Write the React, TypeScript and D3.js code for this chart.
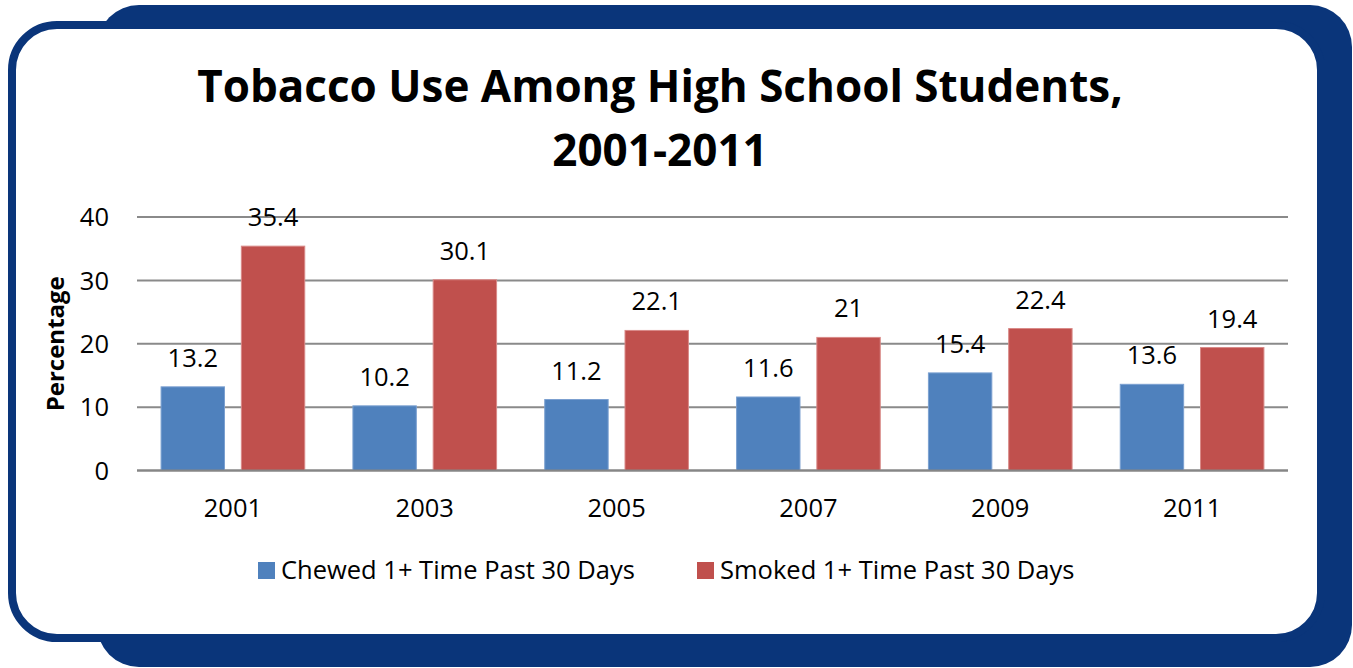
import React from "react";
import * as d3 from "d3";

const years = ["2001", "2003", "2005", "2007", "2009", "2011"];
const chewed = [13.2, 10.2, 11.2, 11.6, 15.4, 13.6];
const smoked = [35.4, 30.1, 22.1, 21, 22.4, 19.4];
const seriesNames = ["Chewed 1+ Time Past 30 Days", "Smoked 1+ Time Past 30 Days"];
const seriesColors = ["#4F81BD", "#C0504D"];
const seriesStroke = ["#7ba0d0", "#d98a88"];
const yTicks = [0, 10, 20, 30, 40];
const titleLines = ["Tobacco Use Among High School Students,", "2001-2011"];
const yAxisTitle = "Percentage";

const W = 1353;
const H = 668;
const FONT = "'Open Sans', 'DejaVu Sans', sans-serif";
const NAVY = "#0A357A";
const NUM_SIZE = 25.5;

export default function App() {
  const x0 = d3.scaleBand<string>().domain(years).range([137, 1288]).paddingInner(0).paddingOuter(0);
  const x1 = d3
    .scaleBand<string>()
    .domain(["0", "1"])
    .range([0, x0.bandwidth()])
    .paddingInner(0.21)
    .paddingOuter(0.3);
  const y = d3.scaleLinear().domain([0, 40]).range([470.5, 217]);
  const data = [chewed, smoked];

  return (
    <svg
      width={W}
      height={H}
      viewBox={`0 0 ${W} ${H}`}
      style={{ position: "absolute", left: 0, top: 0, background: "#fff" }}
    >
      {/* frame */}
      <rect x={97} y={5} width={1255} height={662} rx={42} ry={42} fill={NAVY} />
      <rect x={12} y={25} width={1309} height={613} rx={45} ry={45} fill="#fff" stroke={NAVY} strokeWidth={8} />
      <rect x={1317} y={60} width={10} height={540} fill={NAVY} />

      {/* title */}
      <text x={660} y={102} textAnchor="middle" fontFamily={FONT} fontWeight={700} fontSize={44} fill="#000">
        {titleLines[0]}
      </text>
      <text x={660} y={166} textAnchor="middle" fontFamily={FONT} fontWeight={700} fontSize={44} fill="#000">
        {titleLines[1]}
      </text>

      {/* gridlines */}
      {yTicks.map((t) => (
        <g key={t}>
          <line x1={137} x2={1288} y1={y(t)} y2={y(t)} stroke="#8a8a8a" strokeWidth={2} />
          <text
            x={109}
            y={y(t)}
            dy="0.36em"
            textAnchor="end"
            fontFamily={FONT}
            fontSize={NUM_SIZE}
            fill="#000"
          >
            {t}
          </text>
        </g>
      ))}

      {/* y axis title */}
      <text
        transform={`translate(64, ${y(20)}) rotate(-90)`}
        textAnchor="middle"
        fontFamily={FONT}
        fontWeight={700}
        fontSize={24}
        fill="#000"
      >
        {yAxisTitle}
      </text>

      {/* bars */}
      {years.map((yr, i) => (
        <g key={yr} transform={`translate(${x0(yr)},0)`}>
          {data.map((series, s) => {
            const v = series[i];
            const bx = x1(String(s))!;
            const bw = x1.bandwidth();
            return (
              <g key={s}>
                <rect
                  x={bx}
                  y={y(v)}
                  width={bw}
                  height={y(0) - y(v)}
                  fill={seriesColors[s]}
                  stroke={seriesStroke[s]}
                  strokeWidth={1}
                />
                <text
                  x={bx + bw / 2}
                  y={y(v) - 20}
                  textAnchor="middle"
                  fontFamily={FONT}
                  fontSize={NUM_SIZE}
                  fill="#000"
                >
                  {String(v)}
                </text>
              </g>
            );
          })}
          <text
            x={x0.bandwidth() / 2}
            y={517}
            textAnchor="middle"
            fontFamily={FONT}
            fontSize={NUM_SIZE}
            fill="#000"
          >
            {yr}
          </text>
        </g>
      ))}
      <line x1={137} x2={1288} y1={y(0)} y2={y(0)} stroke="#868686" strokeWidth={2} />

      {/* legend */}
      {seriesNames.map((name, s) => {
        const lx = s === 0 ? 258 : 697;
        return (
          <g key={name}>
            <rect x={lx} y={562} width={17} height={17} fill={seriesColors[s]} />
            <text x={lx + 23} y={579} fontFamily={FONT} fontSize={25.5} fill="#000">
              {name}
            </text>
          </g>
        );
      })}
    </svg>
  );
}
